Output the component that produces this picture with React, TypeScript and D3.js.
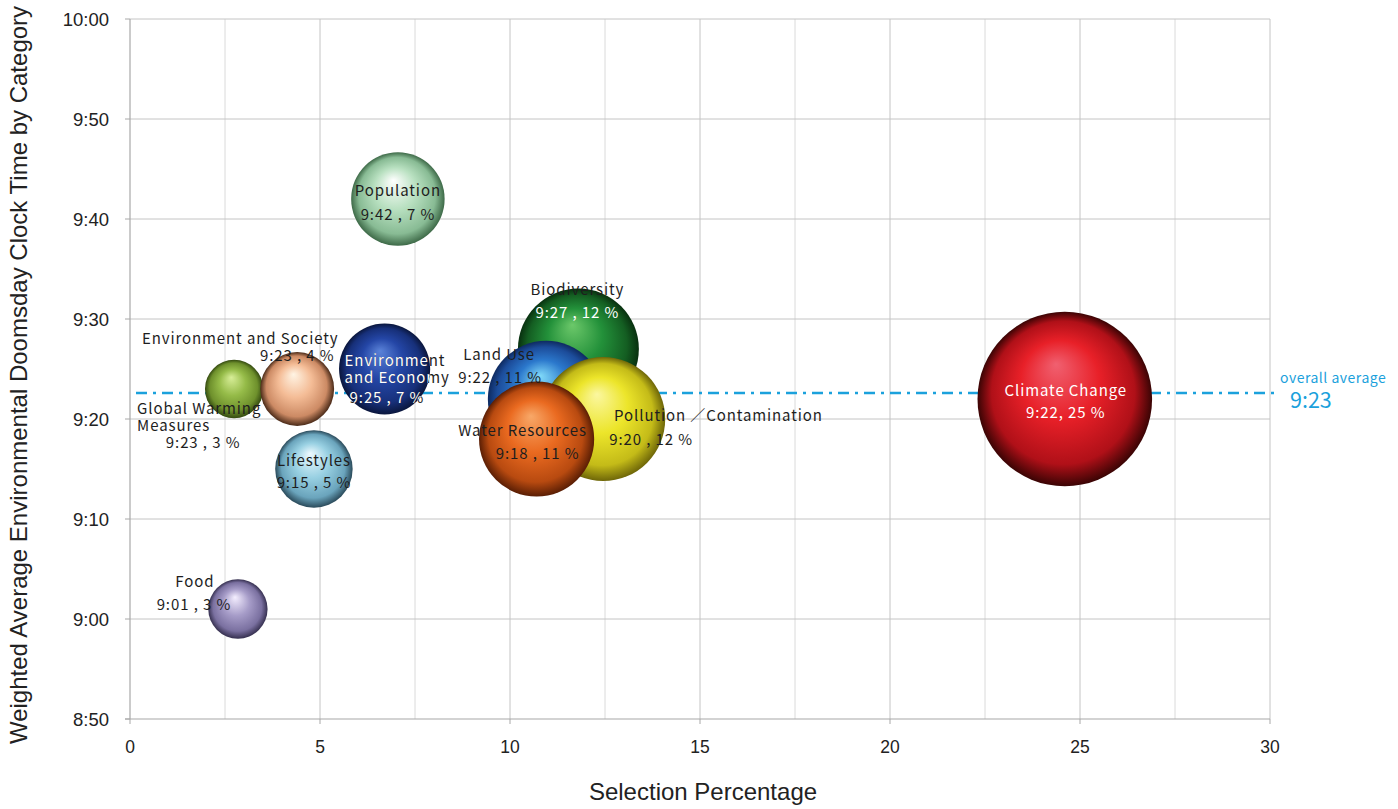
import React from "react";
import * as d3 from "d3";

// ---------- data ----------
const categories = [
  "Biodiversity",
  "Land Use",
  "Pollution",
  "Water Resources",
  "Climate Change",
  "Population",
  "Global Warming Measures",
  "Environment and Society",
  "Environment and Economy",
  "Lifestyles",
  "Food",
];
// selection percentage (x and bubble size)
const selectionPct = [11.8, 10.95, 12.45, 10.7, 24.6, 7.05, 2.74, 4.4, 6.7, 4.84, 2.84];
// weighted average clock time, minutes after midnight
const clockMinutes = [567, 562, 560, 558, 562, 582, 563, 563, 565, 555, 541];
const valueLabels = [
  "9:27 , 12 %",
  "9:22 , 11 %",
  "9:20 , 12 %",
  "9:18 , 11 %",
  "9:22, 25 %",
  "9:42 , 7 %",
  "9:23 , 3 %",
  "9:23 , 4 %",
  "9:25 , 7 %",
  "9:15 , 5 %",
  "9:01 , 3 %",
];
const overallAverage = 562.6;
const overallAverageLabel = "9:23";
const xTicks = [0, 5, 10, 15, 20, 25, 30];
const xMinorGrid = [2.5, 7.5, 12.5, 17.5, 22.5, 27.5];
const yTicks = [530, 540, 550, 560, 570, 580, 590, 600];

// ---------- styles ----------
const colors: Record<string, [string, string, string, string]> = {
  // light, base, dark, rim
  Biodiversity: ["#6cc86a", "#23913a", "#145e22", "#08300f"],
  "Land Use": ["#7fd8f8", "#2b78cc", "#1c4c9a", "#0e2a60"],
  Pollution: ["#fbf7a0", "#ece52a", "#c4bb18", "#6e6608"],
  "Water Resources": ["#f8a868", "#ea6a20", "#b84a10", "#5a1e04"],
  "Climate Change": ["#f06070", "#e82028", "#b01018", "#3a0404"],
  Population: ["#ffffff", "#b8e0c0", "#88bb94", "#3e6a48"],
  "Global Warming Measures": ["#d8ee98", "#95bb48", "#6e902c", "#344a10"],
  "Environment and Society": ["#fff4e4", "#f4bc96", "#cc8a64", "#4a2a18"],
  "Environment and Economy": ["#5a82d8", "#2446a6", "#17307a", "#0a163c"],
  Lifestyles: ["#eefaff", "#98d0e2", "#6aa4bc", "#2a4a5a"],
  Food: ["#f4eeff", "#a69cc8", "#7a70a0", "#363050"],
};

type Line = { text: string; dx: number; dy: number; anchor: string; fill: string; clip?: boolean };
const DARK = "#1e1e1e";
const labelLayout: Record<string, Line[]> = {
  Biodiversity: [
    { text: "Biodiversity", dx: -1, dy: -61, anchor: "middle", fill: DARK },
    { text: "$v", dx: -1, dy: -38, anchor: "middle", fill: "#ffffff" },
  ],
  "Land Use": [
    { text: "Land Use", dx: -47, dy: -46, anchor: "middle", fill: DARK },
    { text: "$v", dx: -46, dy: -23, anchor: "middle", fill: DARK },
  ],
  Pollution: [
    { text: "Pollution ／Contamination", dx: 11, dy: -5, anchor: "start", fill: DARK },
    { text: "$v", dx: 48, dy: 19, anchor: "middle", fill: DARK },
  ],
  "Water Resources": [
    { text: "Water Resources", dx: -14, dy: -10, anchor: "middle", fill: DARK },
    { text: "$v", dx: 1, dy: 13, anchor: "middle", fill: DARK },
  ],
  "Climate Change": [
    { text: "Climate Change", dx: 1, dy: -10, anchor: "middle", fill: "#ffffff" },
    { text: "$v", dx: 1, dy: 12, anchor: "middle", fill: "#ffffff" },
  ],
  Population: [
    { text: "Population", dx: 0, dy: -10, anchor: "middle", fill: DARK },
    { text: "$v", dx: 0, dy: 14, anchor: "middle", fill: DARK },
  ],
  "Global Warming Measures": [
    { text: "Global Warming", dx: -97, dy: 18, anchor: "start", fill: DARK },
    { text: "Measures", dx: -97, dy: 35, anchor: "start", fill: DARK },
    { text: "$v", dx: -31, dy: 52, anchor: "middle", fill: DARK },
  ],
  "Environment and Society": [
    { text: "Environment and Society", dx: -57, dy: -52, anchor: "middle", fill: DARK },
    { text: "$v", dx: 0, dy: -35, anchor: "middle", fill: DARK },
  ],
  "Environment and Economy": [
    { text: "Environment", dx: -40, dy: -10, anchor: "start", fill: "#ffffff", clip: true },
    { text: "and Economy", dx: -40, dy: 7, anchor: "start", fill: "#ffffff", clip: true },
    { text: "$v", dx: -35, dy: 27, anchor: "start", fill: "#ffffff", clip: true },
  ],
  Lifestyles: [
    { text: "Lifestyles", dx: 0, dy: -10, anchor: "middle", fill: DARK },
    { text: "$v", dx: 0, dy: 12, anchor: "middle", fill: DARK },
  ],
  Food: [
    { text: "Food", dx: -43, dy: -29, anchor: "middle", fill: DARK },
    { text: "$v", dx: -44, dy: -6, anchor: "middle", fill: DARK },
  ],
};

const W = 1398;
const H = 809;
const M = { left: 130, right: 1270, top: 19, bottom: 719 };
const AXIS_FONT = "'Liberation Sans', Arial, Helvetica, sans-serif";
const LABEL_FONT = "'Noto Sans CJK JP', 'Noto Sans', sans-serif";
const AVG_COLOR = "#1ba1dc";

const fmtTime = (m: number) => `${Math.floor(m / 60)}:${String(m % 60).padStart(2, "0")}`;

export default function App() {
  const x = d3.scaleLinear().domain([0, 30]).range([M.left, M.right]);
  const y = d3.scaleLinear().domain([530, 600]).range([M.bottom, M.top]);
  const r = d3.scaleSqrt().domain([0, 25]).range([0, 88]);

  const points = categories.map((c, i) => ({
    name: c,
    cx: x(selectionPct[i]),
    cy: y(clockMinutes[i]),
    r: r(selectionPct[i]),
    label: valueLabels[i],
    id: "g" + i,
  }));

  return (
    <svg
      width={W}
      height={H}
      viewBox={`0 0 ${W} ${H}`}
      style={{ position: "absolute", left: 0, top: 0, background: "#fff" }}
    >
      <defs>
        {points.map((p) => {
          const c = colors[p.name];
          return (
            <radialGradient key={p.id} id={p.id} cx="50%" cy="50%" r="50%" fx="45%" fy="30%">
              <stop offset="0%" stopColor={c[0]} />
              <stop offset="45%" stopColor={c[1]} />
              <stop offset="82%" stopColor={c[2]} />
              <stop offset="100%" stopColor={c[3]} />
            </radialGradient>
          );
        })}
        {points.map((p) => (
          <clipPath key={"c" + p.id} id={"clip" + p.id}>
            <circle cx={p.cx} cy={p.cy} r={p.r} />
          </clipPath>
        ))}
      </defs>

      {/* grid */}
      {xMinorGrid.map((v) => (
        <line key={"mg" + v} x1={x(v)} x2={x(v)} y1={M.top} y2={M.bottom} stroke="#dadada" strokeWidth={1} />
      ))}
      {xTicks.slice(1).map((v) => (
        <line key={"xg" + v} x1={x(v)} x2={x(v)} y1={M.top} y2={M.bottom} stroke="#c4c4c4" strokeWidth={1} />
      ))}
      {yTicks.slice(1).map((v) => (
        <line key={"yg" + v} x1={M.left} x2={M.right} y1={y(v)} y2={y(v)} stroke="#c4c4c4" strokeWidth={1} />
      ))}
      {/* axes */}
      <line x1={M.left} x2={M.left} y1={M.top} y2={M.bottom} stroke="#a8a8a8" strokeWidth={1.2} />
      <line x1={M.left - 5} x2={M.right} y1={M.bottom} y2={M.bottom} stroke="#a8a8a8" strokeWidth={1.2} />
      {yTicks.map((v) => (
        <g key={"yt" + v}>
          <line x1={M.left - 5} x2={M.left} y1={y(v)} y2={y(v)} stroke="#a8a8a8" />
          <text
            x={M.left - 21}
            y={y(v)}
            textAnchor="end"
            dominantBaseline="central"
            fontFamily={AXIS_FONT}
            fontSize={18.5}
            fill="#222"
          >
            {fmtTime(v)}
          </text>
        </g>
      ))}
      {xTicks.map((v) => (
        <g key={"xt" + v}>
          <line x1={x(v)} x2={x(v)} y1={M.bottom} y2={M.bottom + 5} stroke="#a8a8a8" />
          <text
            x={x(v)}
            y={M.bottom + 28}
            textAnchor="middle"
            dominantBaseline="central"
            fontFamily={AXIS_FONT}
            fontSize={17.5}
            fill="#222"
          >
            {v}
          </text>
        </g>
      ))}
      <text
        x={(M.left + M.right) / 2 + 3}
        y={791}
        textAnchor="middle"
        dominantBaseline="central"
        fontFamily={AXIS_FONT}
        fontSize={24}
        fill="#222"
      >
        Selection Percentage
      </text>
      <text
        transform={`translate(18, ${(M.top + M.bottom) / 2 + 6}) rotate(-90)`}
        textAnchor="middle"
        dominantBaseline="central"
        fontFamily={AXIS_FONT}
        fontSize={24}
        fill="#222"
      >
        Weighted Average Environmental Doomsday Clock Time by Category
      </text>

      {/* overall average line */}
      <line
        x1={M.left + 6}
        x2={M.right + 7}
        y1={y(overallAverage)}
        y2={y(overallAverage)}
        stroke={AVG_COLOR}
        strokeWidth={2.5}
        strokeDasharray="11,6,3,6"
      />
      <text
        x={1280}
        y={377}
        fontFamily={LABEL_FONT}
        fontSize={14}
        letterSpacing={0.5}
        fill={AVG_COLOR}
        dominantBaseline="central"
      >
        overall average
      </text>
      <text x={1290} y={398} fontFamily={LABEL_FONT} fontSize={21.5} fill={AVG_COLOR} dominantBaseline="central">
        {overallAverageLabel}
      </text>

      {/* bubbles */}
      {points.map((p) => (
        <circle key={"b" + p.id} cx={p.cx} cy={p.cy} r={p.r} fill={`url(#${p.id})`} />
      ))}

      {/* labels */}
      {points.map((p) =>
        labelLayout[p.name].map((l, j) => {
          const txt = l.text === "$v" ? p.label : l.text;
          const common = {
            x: p.cx + l.dx,
            y: p.cy + l.dy,
            textAnchor: l.anchor as any,
            dominantBaseline: "central" as any,
            fontFamily: LABEL_FONT,
            fontSize: 15,
            letterSpacing: 0.9,
          };
          if (l.clip) {
            return (
              <g key={p.id + "l" + j}>
                <text {...common} fill={DARK}>
                  {txt}
                </text>
                <text {...common} fill={l.fill} clipPath={`url(#clip${p.id})`}>
                  {txt}
                </text>
              </g>
            );
          }
          return (
            <text key={p.id + "l" + j} {...common} fill={l.fill}>
              {txt}
            </text>
          );
        })
      )}
    </svg>
  );
}
